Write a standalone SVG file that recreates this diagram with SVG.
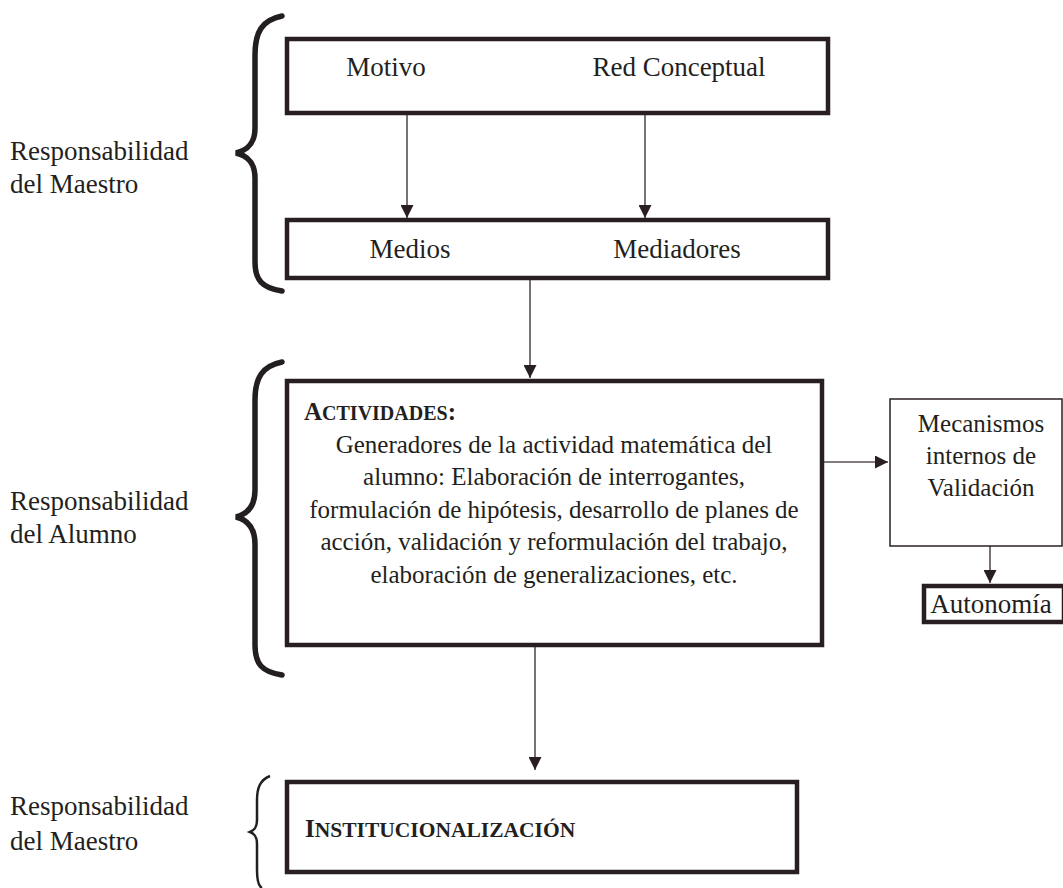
<svg xmlns="http://www.w3.org/2000/svg" width="1063" height="888" viewBox="0 0 1063 888">
<defs>
<marker id="ah" viewBox="0 0 13 13" refX="13" refY="6.5" markerWidth="13" markerHeight="13" markerUnits="userSpaceOnUse" orient="auto">
<path d="M0,0 L13,6.5 L0,13 Z" fill="#2a1f20"/>
</marker>
<style>
text{font-family:"Liberation Serif","Times New Roman",serif;fill:#231f20;font-size:25px}
.lbl{font-size:27px}
.thick{fill:#fff;stroke:#2a1f20;stroke-width:4.5}
.thin{fill:#fff;stroke:#2a1f20;stroke-width:1.5}
.conn{stroke:#5a4f50;stroke-width:1.6;fill:none;marker-end:url(#ah)}
.brace{fill:none;stroke:#231f20;stroke-width:5.5;stroke-linecap:round}
.c{text-anchor:middle}
</style>
</defs>
<rect width="1063" height="888" fill="#fff"/>
<g id="labels">
<text class="lbl" x="10" y="160">Responsabilidad</text>
<text class="lbl" x="10" y="193">del Maestro</text>
<text class="lbl" x="10" y="510">Responsabilidad</text>
<text class="lbl" x="10" y="543">del Alumno</text>
<text class="lbl" x="10" y="815">Responsabilidad</text>
<text class="lbl" x="10" y="850">del Maestro</text>
</g>
<g id="braces">
<path class="brace" d="M282,16 C262,20 255,32 255,55 L255,128 C255,143 248,150 236,153 C248,156 255,163 255,178 L255,262 C255,280 262,288 282,291"/>
<path class="brace" d="M282,362 C262,366 255,378 255,400 L255,490 C255,506 248,514 236,517 C248,520 255,528 255,544 L255,645 C255,664 262,672 282,675"/>
<path d="M270,776 C260,780 257,788 257,800 L257,820 C257,827 255,830 250,832 C255,834 257,837 257,844 L257,870 C257,880 258,886 262,888" fill="none" stroke="#231f20" stroke-width="2.5"/>
</g>
<g id="connectors">
<line class="conn" x1="407" y1="115" x2="407" y2="218"/>
<line class="conn" x1="645" y1="115" x2="645" y2="218"/>
<line class="conn" x1="530" y1="280" x2="530" y2="378"/>
<line class="conn" x1="824" y1="462" x2="888" y2="462"/>
<line class="conn" x1="990" y1="546" x2="990" y2="583"/>
<line class="conn" x1="535" y1="647" x2="535" y2="770"/>
</g>
<g id="n-top">
<rect class="thick" x="287" y="39" width="541" height="74"/>
<text class="c lbl" x="386" y="76">Motivo</text>
<text class="c lbl" x="679" y="76">Red Conceptual</text>
</g>
<g id="n-medios">
<rect class="thick" x="287" y="220" width="541" height="58"/>
<text class="c lbl" x="410" y="258">Medios</text>
<text class="c lbl" x="677" y="258">Mediadores</text>
</g>
<g id="n-actividades">
<rect class="thick" x="287" y="381" width="535" height="264"/>
<text x="304" y="420" font-weight="bold" font-size="27">A<tspan font-size="20">CTIVIDADES</tspan>:</text>
<text class="c" x="554" y="453">Generadores de la actividad matemática del</text>
<text class="c" x="554" y="485">alumno: Elaboración de interrogantes,</text>
<text class="c" x="554" y="518">formulación de hipótesis, desarrollo de planes de</text>
<text class="c" x="554" y="550">acción, validación y reformulación del trabajo,</text>
<text class="c" x="554" y="583">elaboración de generalizaciones, etc.</text>
</g>
<g id="n-mecanismos">
<rect class="thin" x="890" y="399" width="172" height="147"/>
<text class="c" x="981" y="432">Mecanismos</text>
<text class="c" x="981" y="464">internos de</text>
<text class="c" x="981" y="496">Validación</text>
</g>
<g id="n-autonomia">
<rect class="thick" x="924" y="586" width="140" height="36"/>
<text class="c lbl" x="991" y="613">Autonomía</text>
</g>
<g id="n-inst">
<rect class="thick" x="287" y="782" width="510" height="90"/>
<text x="305" y="837" font-weight="bold" font-size="28">I<tspan font-size="21.5">NSTITUCIONALIZACIÓN</tspan></text>
</g>
</svg>
